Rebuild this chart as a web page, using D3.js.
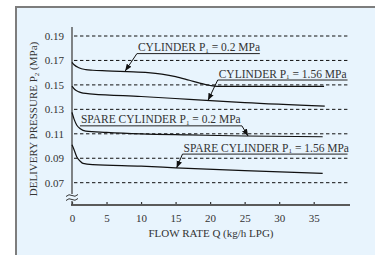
<!DOCTYPE html>
<html>
<head>
<meta charset="utf-8">
<script src="https://cdn.jsdelivr.net/npm/d3@7"></script>
<style>
  body { margin: 0; background: #fff; }
  svg text { font-family: "Liberation Serif", "DejaVu Serif", serif; fill: #333; }
</style>
</head>
<body>
<svg id="chart" width="375" height="255"></svg>
<script>
// tick values
var x_ticks = [0, 5, 10, 15, 20, 25, 30, 35];
var y_ticks = [0.07, 0.09, 0.11, 0.13, 0.15, 0.17, 0.19];

// curves: flow rate Q (kg/h) and delivery pressure P2 (MPa)
var cyl_02_q   = [0, 0.3, 1, 2, 3, 5, 8, 11, 13, 15, 17, 18.5, 20, 21, 25, 30, 36.5];
var cyl_02_p   = [0.1685, 0.1665, 0.164, 0.1625, 0.162, 0.1615, 0.1608, 0.16, 0.1588, 0.1568, 0.1538, 0.1515, 0.1495, 0.1488, 0.1488, 0.1488, 0.1488];
var cyl_156_q  = [0, 0.4, 1, 1.6, 3, 10, 17, 25, 36.6];
var cyl_156_p  = [0.149, 0.1462, 0.1443, 0.1432, 0.1425, 0.1405, 0.1382, 0.1355, 0.1327];
var spr_02_q   = [0, 0.3, 0.7, 1.2, 2, 5, 10, 17, 25, 36.3];
var spr_02_p   = [0.1275, 0.122, 0.117, 0.1142, 0.1122, 0.1112, 0.11, 0.1091, 0.1082, 0.1076];
var spr_156_q  = [0, 0.3, 0.7, 1.2, 1.6, 3, 10, 15, 25, 36.3];
var spr_156_p  = [0.101, 0.097, 0.091, 0.0875, 0.0858, 0.0848, 0.0835, 0.0822, 0.0798, 0.0777];

// labels: text, underline start (q,p), underline end q, arrow tip (q,p)
var label_texts = [["CYLINDER P", "1", " = 0.2 MPa"],
                   ["CYLINDER P", "1", " = 1.56 MPa"],
                   ["SPARE CYLINDER P", "1", " = 0.2 MPa"],
                   ["SPARE CYLINDER P", "1", " = 1.56 MPa"]];
var label_q0  = [9.4, 21.1, 1.15, 16.0];
var label_q1  = [27.2, 39.9, 24.6, 39.9];
var label_p   = [0.1756, 0.154, 0.1165, 0.0934];
var leader_at = ["start", "start", "end", "start"];
var tip_q     = [7.7, 19.7, 25.5, 15.15];
var tip_p     = [0.1613, 0.1374, 0.1082, 0.0821];

var svg = d3.select("#chart");

// panel background with border on top and left
svg.append("rect")
    .attr("x", 16).attr("y", 7)
    .attr("width", 375).attr("height", 260)
    .attr("fill", "#e8f4fd");
svg.append("path")
    .attr("d", "M16,260 L16,7 L380,7")
    .attr("fill", "none")
    .attr("stroke", "#7d7d7d")
    .attr("stroke-width", 2);

var x = d3.scaleLinear().domain([0, 35]).range([72, 313.7]);
var y = d3.scaleLinear().domain([0.07, 0.19]).range([182.7, 36]);
var x_end = 350;
var y_top = 27, y_bot = 205;

// dashed grid lines
svg.append("g").selectAll("line")
    .data(y_ticks)
    .join("line")
    .attr("x1", 74).attr("x2", x_end)
    .attr("y1", function(d) { return y(d); })
    .attr("y2", function(d) { return y(d); })
    .attr("stroke", "#111")
    .attr("stroke-width", 1)
    .attr("stroke-dasharray", "3.4,2.6");

// y tick labels
svg.append("g").selectAll("text")
    .data(y_ticks)
    .join("text")
    .attr("x", 64)
    .attr("y", function(d) { return y(d); })
    .attr("dy", "0.35em")
    .attr("text-anchor", "end")
    .attr("font-size", 11)
    .text(function(d) { return d.toFixed(2); });

// x axis
var x_axis = d3.axisBottom(x).tickValues(x_ticks).tickSize(-3).tickPadding(9);
var gx = svg.append("g")
    .attr("transform", "translate(0," + y_bot + ")")
    .call(x_axis);
gx.select(".domain").remove();
gx.selectAll(".tick line").attr("stroke", "#333").attr("stroke-width", 1.2);
gx.selectAll(".tick text")
    .attr("font-size", 11)
    .attr("font-family", "Liberation Serif, serif")
    .attr("fill", "#333");
svg.append("line")
    .attr("x1", 71).attr("x2", x_end)
    .attr("y1", y_bot).attr("y2", y_bot)
    .attr("stroke", "#5a5a5a").attr("stroke-width", 2);

// y axis with break
svg.append("line")
    .attr("x1", 72).attr("x2", 72)
    .attr("y1", y_top).attr("y2", 194)
    .attr("stroke", "#444").attr("stroke-width", 1.3);
svg.append("line")
    .attr("x1", 72).attr("x2", 72)
    .attr("y1", 201).attr("y2", y_bot)
    .attr("stroke", "#444").attr("stroke-width", 1.3);
[195.5, 199.5].forEach(function(yy) {
    svg.append("path")
        .attr("d", "M66," + (yy + 1) + " Q69," + (yy - 2) + " 72," + yy + " T78," + (yy - 1))
        .attr("fill", "none").attr("stroke", "#333").attr("stroke-width", 1);
});

// axis titles
svg.append("text")
    .attr("x", (72 + x_end) / 2).attr("y", 237)
    .attr("text-anchor", "middle")
    .attr("font-size", 11)
    .text("FLOW RATE Q (kg/h LPG)");
var yt = svg.append("text")
    .attr("transform", "translate(37,119) rotate(-90)")
    .attr("text-anchor", "middle")
    .attr("font-size", 11);
yt.append("tspan").text("DELIVERY PRESSURE P");
yt.append("tspan").attr("font-size", 7).attr("dy", 2).text("2");
yt.append("tspan").attr("dy", -2).text(" (MPa)");

// curves
var line = d3.line()
    .x(function(d) { return x(d[0]); })
    .y(function(d) { return y(d[1]); })
    .curve(d3.curveMonotoneX);
var curves = [d3.zip(cyl_02_q, cyl_02_p), d3.zip(cyl_156_q, cyl_156_p),
              d3.zip(spr_02_q, spr_02_p), d3.zip(spr_156_q, spr_156_p)];
svg.append("g").selectAll("path")
    .data(curves)
    .join("path")
    .attr("d", line)
    .attr("fill", "none")
    .attr("stroke", "#111")
    .attr("stroke-width", 1.2);

// arrow head
svg.append("defs").append("marker")
    .attr("id", "arr")
    .attr("viewBox", "0 0 10 10")
    .attr("refX", 10).attr("refY", 5)
    .attr("markerWidth", 7).attr("markerHeight", 7)
    .attr("markerUnits", "userSpaceOnUse")
    .attr("orient", "auto")
    .append("path")
    .attr("d", "M0,1 L10,5 L0,9 Z")
    .attr("fill", "#111");

// labels with underline and leader
label_texts.forEach(function(parts, i) {
    var x0 = x(label_q0[i]), x1 = x(label_q1[i]), yy = y(label_p[i]);
    var t = svg.append("text")
        .attr("x", x0 + 1).attr("y", yy - 2.5)
        .attr("font-size", 11.5);
    t.append("tspan").text(parts[0]);
    t.append("tspan").attr("font-size", 7).attr("dy", 1.5).text(parts[1]);
    t.append("tspan").attr("dy", -1.5).text(parts[2]);
    svg.append("line")
        .attr("x1", x0).attr("x2", x1)
        .attr("y1", yy).attr("y2", yy)
        .attr("stroke", "#222").attr("stroke-width", 1);
    var lx = leader_at[i] === "start" ? x0 : x1;
    svg.append("line")
        .attr("x1", lx).attr("y1", yy)
        .attr("x2", x(tip_q[i])).attr("y2", y(tip_p[i]))
        .attr("stroke", "#111").attr("stroke-width", 1)
        .attr("marker-end", "url(#arr)");
});
</script>
</body>
</html>
